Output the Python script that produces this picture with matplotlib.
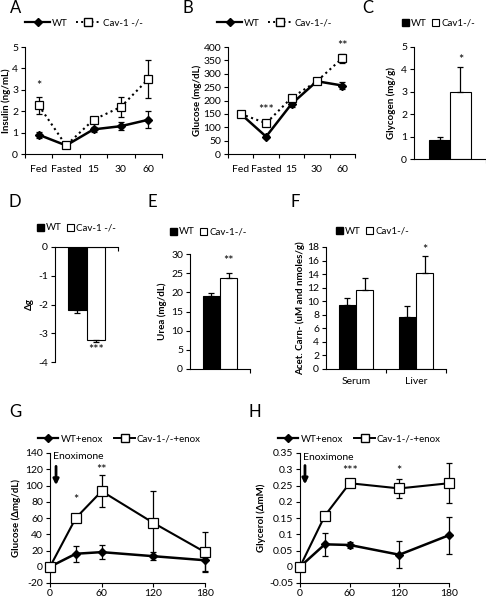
import matplotlib
matplotlib.use("Agg")
import matplotlib.pyplot as plt
from matplotlib.lines import Line2D
from matplotlib.patches import Patch

plt.rcParams['font.family'] = ['Lato', 'DejaVu Sans']
plt.rcParams['axes.linewidth'] = 0.8
plt.rcParams['axes.unicode_minus'] = False

# ---------------- data ----------------
time_cats = ['Fed', 'Fasted', '15', '30', '60']
ins_wt = [0.9, 0.4, 1.15, 1.3, 1.6]
ins_wt_err = [0.15, 0.05, 0.1, 0.2, 0.4]
ins_ko = [2.27, 0.4, 1.6, 2.2, 3.5]
ins_ko_err = [0.4, 0.05, 0.15, 0.46, 0.9]

glu_wt = [150, 65, 187, 272, 256]
glu_wt_err = [5, 5, 12, 5, 14]
glu_ko = [150, 115, 210, 272, 358]
glu_ko_err = [5, 8, 8, 5, 16]

gly_vals = [0.86, 3.0]
gly_err = [0.14, 1.12]

dg_vals = [-2.2, -3.25]
dg_err = [0.1, 0.07]

urea_vals = [19.1, 23.7]
urea_err = [0.6, 1.25]

carn_cats = ['Serum', 'Liver']
carn_wt = [9.4, 7.6]
carn_wt_err = [1.05, 1.7]
carn_ko = [11.6, 14.2]
carn_ko_err = [1.8, 2.4]

enox_t = [0, 30, 60, 120, 180]
gG_wt = [0, 16, 18, 13, 8]
gG_wt_err = [0, 10, 9, 5, 13]
gG_ko = [0, 60, 93, 54, 18]
gG_ko_err = [0, 3, 20, 39, 25]

gH_wt = [0, 0.069, 0.067, 0.037, 0.097]
gH_wt_err = [0, 0.035, 0.01, 0.042, 0.057]
gH_ko = [0, 0.157, 0.257, 0.241, 0.257]
gH_ko_err = [0, 0.01, 0.004, 0.029, 0.062]

# ---------------- figure ----------------
W, H = 486, 599
fig = plt.figure(figsize=(W / 100, H / 100), dpi=100)

TICK = 7.5
LAB = 7
LEG = 7


def add_ax(x0, x1, ytop, ybot):
    ax = fig.add_axes([x0 / W, 1 - ybot / H, (x1 - x0) / W, (ybot - ytop) / H])
    ax.patch.set_visible(False)
    for s in ['top', 'right']:
        ax.spines[s].set_visible(False)
    ax.tick_params(labelsize=TICK, length=3, width=0.8, pad=2)
    return ax


def ylabel(ax, text, px, x0, x1):
    ax.set_ylabel(text, fontsize=LAB, fontweight='bold')
    ax.yaxis.set_label_coords((px - x0) / (x1 - x0), 0.5)


def letter(t, px, py):
    fig.text(px / W, 1 - py / H, t, fontsize=12, ha='center', va='center')


def star(ax, x, y, s):
    ax.text(x, y, s, ha='center', va='center', fontsize=9, clip_on=False)


def line_legend(px, py, labels, ko_ls, colsp=0.8, hl=2.6):
    hs = [Line2D([], [], color='black', lw=1.6, marker='D', ms=4, mfc='black'),
          Line2D([], [], color='black', lw=1.4, ls=ko_ls, marker='s', ms=6,
                 mfc='white', mec='black')]
    fig.legend(hs, labels, loc='center left', bbox_to_anchor=(px / W, 1 - py / H),
               ncol=2, frameon=False, fontsize=LEG, handlelength=hl,
               handletextpad=0.2, columnspacing=colsp, borderpad=0, borderaxespad=0)


def bar_legend(px, py, labels):
    hs = [Patch(facecolor='black', edgecolor='black'),
          Patch(facecolor='white', edgecolor='black', lw=0.8)]
    fig.legend(hs, labels, loc='center left', bbox_to_anchor=(px / W, 1 - py / H),
               ncol=2, frameon=False, fontsize=LEG, handlelength=0.7,
               handleheight=0.7, handletextpad=0.2, columnspacing=0.6,
               borderpad=0, borderaxespad=0)


def cat_line(ax, x0, x1, wt, wte, ko, koe, ls):
    xs = range(len(time_cats))
    ax.errorbar(xs, wt, yerr=wte, color='black', lw=1.8, marker='D', ms=4.5,
                mfc='black', capsize=2.5, elinewidth=0.9, capthick=0.9, zorder=3,
                clip_on=False)
    ax.errorbar(xs, ko, yerr=koe, color='black', lw=1.5, ls=ls, marker='s', ms=6,
                mfc='white', mec='black', mew=0.9, capsize=2.5, elinewidth=0.9,
                capthick=0.9, zorder=4, clip_on=False)
    ax.set_xlim(-0.5, len(time_cats) - 0.5)
    ax.set_xticks([i + 0.5 for i in range(-1, len(time_cats))])
    ax.set_xticklabels([])
    ax.set_xticks(list(xs), minor=True)
    ax.set_xticklabels(time_cats, minor=True)
    ax.tick_params(axis='x', which='minor', length=0, labelsize=TICK, pad=8)


# ---------- A ----------
x0, x1 = 25, 162
axA = add_ax(x0, x1, 47, 154)
cat_line(axA, x0, x1, ins_wt, ins_wt_err, ins_ko, ins_ko_err, ':')
axA.set_ylim(0, 5)
axA.set_yticks(range(0, 6))
ylabel(axA, 'Insulin (ng/mL)', 11, x0, x1)
star(axA, 0, 3.2, '*')
letter('A', 16, 8)
line_legend(25, 23, ['WT', 'Cav-1 -/-'], ':')

# ---------- B ----------
x0, x1 = 228, 355
axB = add_ax(x0, x1, 47, 154)
cat_line(axB, x0, x1, glu_wt, glu_wt_err, glu_ko, glu_ko_err, ':')
axB.set_ylim(0, 400)
axB.set_yticks(range(0, 401, 50))
ylabel(axB, 'Glucose (mg/dL)', 202, x0, x1)
star(axB, 1, 165, '***')
star(axB, 4, 405, '**')
letter('B', 188, 8)
line_legend(217, 23, ['WT', 'Cav-1-/-'], ':')

# ---------- C ----------
x0, x1 = 414, 486
axC = add_ax(x0, x1, 47, 159)
bw = 0.29
axC.bar([-bw / 2], [gly_vals[0]], bw, color='black', edgecolor='black', lw=0.8)
axC.bar([bw / 2], [gly_vals[1]], bw, color='white', edgecolor='black', lw=0.8)
axC.errorbar([-bw / 2, bw / 2], gly_vals, yerr=[[0, 0], gly_err], fmt='none',
             ecolor='black', elinewidth=0.9, capsize=2.5, capthick=0.9)
axC.set_xlim(-0.5, 0.5)
axC.set_xticks([0.5])
axC.set_xticklabels([])
axC.set_ylim(0, 5)
axC.set_yticks(range(0, 6))
ylabel(axC, 'Glycogen (mg/g)', 396, x0, x1)
star(axC, bw / 2, 4.4, '*')
letter('C', 368, 8)
bar_legend(402, 23, ['WT', 'Cav1-/-'])

# ---------- D ----------
x0, x1 = 55, 118
axD = add_ax(x0, x1, 247, 362)
axD.spines['top'].set_visible(True)
axD.spines['bottom'].set_visible(False)
axD.bar([-bw / 2], [dg_vals[0]], bw, color='black', edgecolor='black', lw=0.8)
axD.bar([bw / 2], [dg_vals[1]], bw, color='white', edgecolor='black', lw=0.8)
axD.errorbar([-bw / 2, bw / 2], dg_vals, yerr=[dg_err, [0, 0]], fmt='none',
             ecolor='black', elinewidth=0.9, capsize=2.5, capthick=0.9)
axD.set_xlim(-0.5, 0.5)
axD.xaxis.set_ticks_position('top')
axD.set_xticks([0.5])
axD.set_xticklabels([])
axD.tick_params(axis='x', direction='in')
axD.set_ylim(-4, 0)
axD.set_yticks(range(-4, 1))
ylabel(axD, 'Δg', 34, x0, x1)
star(axD, bw / 2, -3.58, '***')
letter('D', 15, 202)
bar_legend(37, 228, ['WT', 'Cav-1 -/-'])

# ---------- E ----------
x0, x1 = 190, 250
axE = add_ax(x0, x1, 254, 369)
axE.bar([-bw / 2], [urea_vals[0]], bw, color='black', edgecolor='black', lw=0.8)
axE.bar([bw / 2], [urea_vals[1]], bw, color='white', edgecolor='black', lw=0.8)
axE.errorbar([-bw / 2, bw / 2], urea_vals, yerr=[[0, 0], urea_err], fmt='none',
             ecolor='black', elinewidth=0.9, capsize=2.5, capthick=0.9)
axE.set_xlim(-0.5, 0.5)
axE.set_xticks([0.5])
axE.set_xticklabels([])
axE.set_ylim(0, 30)
axE.set_yticks(range(0, 31, 5))
ylabel(axE, 'Urea (mg/dL)', 167, x0, x1)
star(axE, bw / 2, 28.3, '**')
letter('E', 152, 202)
bar_legend(170, 232, ['WT', 'Cav-1-/-'])

# ---------- F ----------
x0, x1 = 326, 446
axF = add_ax(x0, x1, 247, 369)
xs = range(len(carn_cats))
axF.bar([i - bw / 2 for i in xs], carn_wt, bw, color='black', edgecolor='black', lw=0.8)
axF.bar([i + bw / 2 for i in xs], carn_ko, bw, color='white', edgecolor='black', lw=0.8)
axF.errorbar([i - bw / 2 for i in xs], carn_wt, yerr=[[0] * 2, carn_wt_err], fmt='none',
             ecolor='black', elinewidth=0.9, capsize=2.5, capthick=0.9)
axF.errorbar([i + bw / 2 for i in xs], carn_ko, yerr=[[0] * 2, carn_ko_err], fmt='none',
             ecolor='black', elinewidth=0.9, capsize=2.5, capthick=0.9)
axF.set_xlim(-0.5, 1.5)
axF.set_xticks([0.5, 1.5])
axF.set_xticklabels([])
axF.set_xticks(list(xs), minor=True)
axF.set_xticklabels(carn_cats, minor=True)
axF.tick_params(axis='x', which='minor', length=0, labelsize=TICK, pad=6)
axF.set_ylim(0, 18)
axF.set_yticks(range(0, 19, 2))
ylabel(axF, 'Acet. Carn- (uM and nmoles/g)', 305, x0, x1)
star(axF, 1 + bw / 2, 17.6, '*')
letter('F', 295, 202)
bar_legend(336, 231, ['WT', 'Cav1-/-'])


# ---------- G / H ----------
def time_line(ax, wt, wte, ko, koe):
    ax.errorbar(enox_t, wt, yerr=wte, color='black', lw=1.8, marker='D', ms=4.5,
                mfc='black', capsize=2.5, elinewidth=0.9, capthick=0.9, zorder=3,
                clip_on=False)
    ax.errorbar(enox_t, ko, yerr=koe, color='black', lw=1.5, marker='s', ms=7,
                mfc='white', mec='black', mew=0.9, capsize=2.5, elinewidth=0.9,
                capthick=0.9, zorder=4, clip_on=False)
    ax.set_xlim(0, 180)
    ax.set_xticks([0, 60, 120, 180])
    ax.tick_params(axis='x', pad=1.5)


x0, x1 = 50, 205
axG = add_ax(x0, x1, 453, 583)
time_line(axG, gG_wt, gG_wt_err, gG_ko, gG_ko_err)
axG.set_ylim(-20, 140)
axG.set_yticks(range(-20, 141, 20))
ylabel(axG, 'Glucose (Δmg/dL)', 21, x0, x1)
star(axG, 30, 82, '*')
star(axG, 60, 119, '**')
axG.text(4, 136, 'Enoximone', fontsize=LEG + 0.5, ha='left', va='center')
axG.annotate('', xy=(7, 97), xytext=(7, 127),
             arrowprops=dict(arrowstyle='-|>', color='black', lw=2, mutation_scale=8))
letter('G', 15, 412)
line_legend(38, 439, ['WT+enox', 'Cav-1-/-+enox'], '-', colsp=1.2, hl=2.1)

x0, x1 = 300, 449
axH = add_ax(x0, x1, 453, 583)
time_line(axH, gH_wt, gH_wt_err, gH_ko, gH_ko_err)
axH.set_ylim(-0.05, 0.35)
hy = [-0.05, 0, 0.05, 0.1, 0.15, 0.2, 0.25, 0.3, 0.35]
axH.set_yticks(hy)
axH.set_yticklabels(['-0.05', '0', '0.05', '0.1', '0.15', '0.2', '0.25', '0.3', '0.35'])
ylabel(axH, 'Glycerol (ΔmM)', 266, x0, x1)
star(axH, 60, 0.296, '***')
star(axH, 120, 0.296, '*')
axH.text(4, 0.335, 'Enoximone', fontsize=LEG + 0.5, ha='left', va='center')
axH.annotate('', xy=(6, 0.245), xytext=(6, 0.32),
             arrowprops=dict(arrowstyle='-|>', color='black', lw=2, mutation_scale=8))
letter('H', 255, 412)
line_legend(278, 439, ['WT+enox', 'Cav-1-/-+enox'], '-', colsp=1.2, hl=2.1)

fig.savefig('out.png', dpi=100)
